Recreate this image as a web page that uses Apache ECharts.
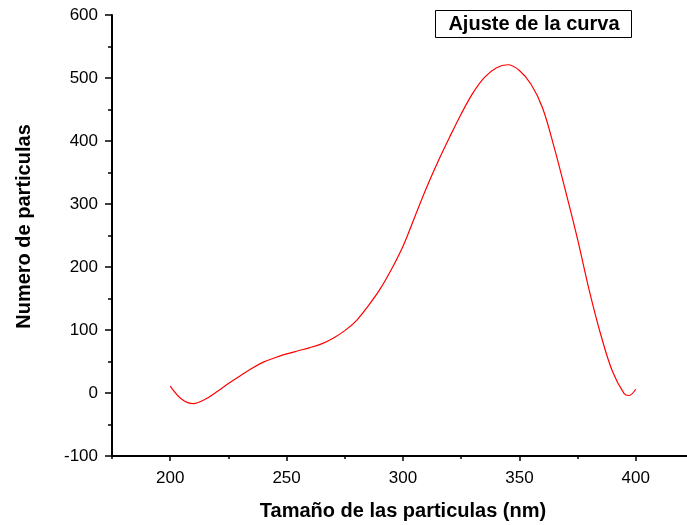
<!DOCTYPE html>
<html>
<head>
<meta charset="utf-8">
<script src="https://cdn.jsdelivr.net/npm/echarts@6/dist/echarts.min.js"></script>
<style>
  html, body { margin: 0; padding: 0; background: #fff; }
  #chart { width: 687px; height: 525px; }
</style>
</head>
<body>
<div id="chart"></div>
<script>
// Fitted size distribution: particle size (nm) vs particle count
const sizes = [200, 205, 210, 215, 220, 225, 230, 235, 240, 245, 250, 255, 260, 265, 270, 275,
  280, 285, 290, 295, 300, 305, 310, 315, 320, 325, 330, 335, 340, 345, 350, 355, 360, 365,
  370, 375, 380, 385, 390, 395, 397, 400];
const counts = [11, -10, -17, -10, 2, 15, 27, 39, 49, 56, 62, 67, 72, 78, 87, 99,
  115, 138, 164, 196, 233, 279, 325, 367, 406, 443, 476, 501, 516, 521, 512, 490, 452, 389,
  318, 244, 163, 92, 34, -1, -4, 6];
const xMajorTicks = [200, 250, 300, 350, 400];
const legendLabel = 'Ajuste de la curva';

const points = sizes.map((s, i) => [s, counts[i]]);

const chart = echarts.init(document.getElementById('chart'), null, { renderer: 'canvas' });
const font = 'Liberation Sans, Arial, Helvetica, sans-serif';

chart.setOption({
  backgroundColor: '#ffffff',
  animation: false,
  grid: { left: 112, right: -7, top: 15, bottom: 69, containLabel: false, outerBoundsMode: 'none' },
  xAxis: [{
    type: 'value',
    min: 175, max: 425, interval: 25,
    name: 'Tamaño de las particulas (nm)',
    nameLocation: 'middle',
    nameGap: 45,
    nameTextStyle: { fontFamily: font, fontSize: 20, fontWeight: 'bold', color: '#000' },
    axisLine: { show: true, onZero: false, lineStyle: { color: '#000', width: 2 } },
    axisTick: { show: true, inside: false, length: 3, lineStyle: { color: '#000', width: 1.5 } },
    axisLabel: {
      margin: 14, fontFamily: font, fontSize: 17, color: '#000',
      formatter: v => (v % 50 === 0 && v >= 200 && v <= 400) ? String(v) : ''
    },
    splitLine: { show: false }
  }, {
    type: 'value',
    min: 175, max: 425,
    position: 'bottom',
    axisLine: { show: false, onZero: false },
    axisTick: { show: true, inside: false, length: 5, customValues: xMajorTicks,
      lineStyle: { color: '#000', width: 1.5 } },
    axisLabel: { show: false },
    splitLine: { show: false }
  }],
  yAxis: {
    type: 'value',
    min: -100, max: 600, interval: 100,
    name: 'Numero de particulas',
    nameLocation: 'middle',
    nameGap: 78,
    nameTextStyle: { fontFamily: font, fontSize: 20, fontWeight: 'bold', color: '#000', padding: [0, 0, 0, 18] },
    axisLine: { show: true, onZero: false, lineStyle: { color: '#000', width: 2 } },
    axisTick: { show: true, inside: false, length: 7, lineStyle: { color: '#000', width: 1.5 } },
    minorTick: { show: true, splitNumber: 2, length: 4, lineStyle: { color: '#000', width: 1.5 } },
    axisLabel: { margin: 14, fontFamily: font, fontSize: 17, color: '#000' },
    splitLine: { show: false },
    minorSplitLine: { show: false }
  },
  series: [{
    name: legendLabel,
    type: 'line',
    xAxisIndex: 0,
    data: points,
    smooth: 0.35,
    showSymbol: false,
    lineStyle: { color: '#ff0000', width: 1.2 }
  }],
  graphic: [{
    type: 'group',
    left: 435, top: 10,
    children: [{
      type: 'rect',
      shape: { x: 0.5, y: 0.5, width: 196, height: 27 },
      style: { fill: '#fff', stroke: '#000', lineWidth: 1 }
    }, {
      type: 'text',
      x: 99, y: 14.5,
      style: {
        text: legendLabel, fontFamily: font, fontSize: 20, fontWeight: 'bold',
        fill: '#000', align: 'center', verticalAlign: 'middle'
      }
    }]
  }]
});
</script>
</body>
</html>
